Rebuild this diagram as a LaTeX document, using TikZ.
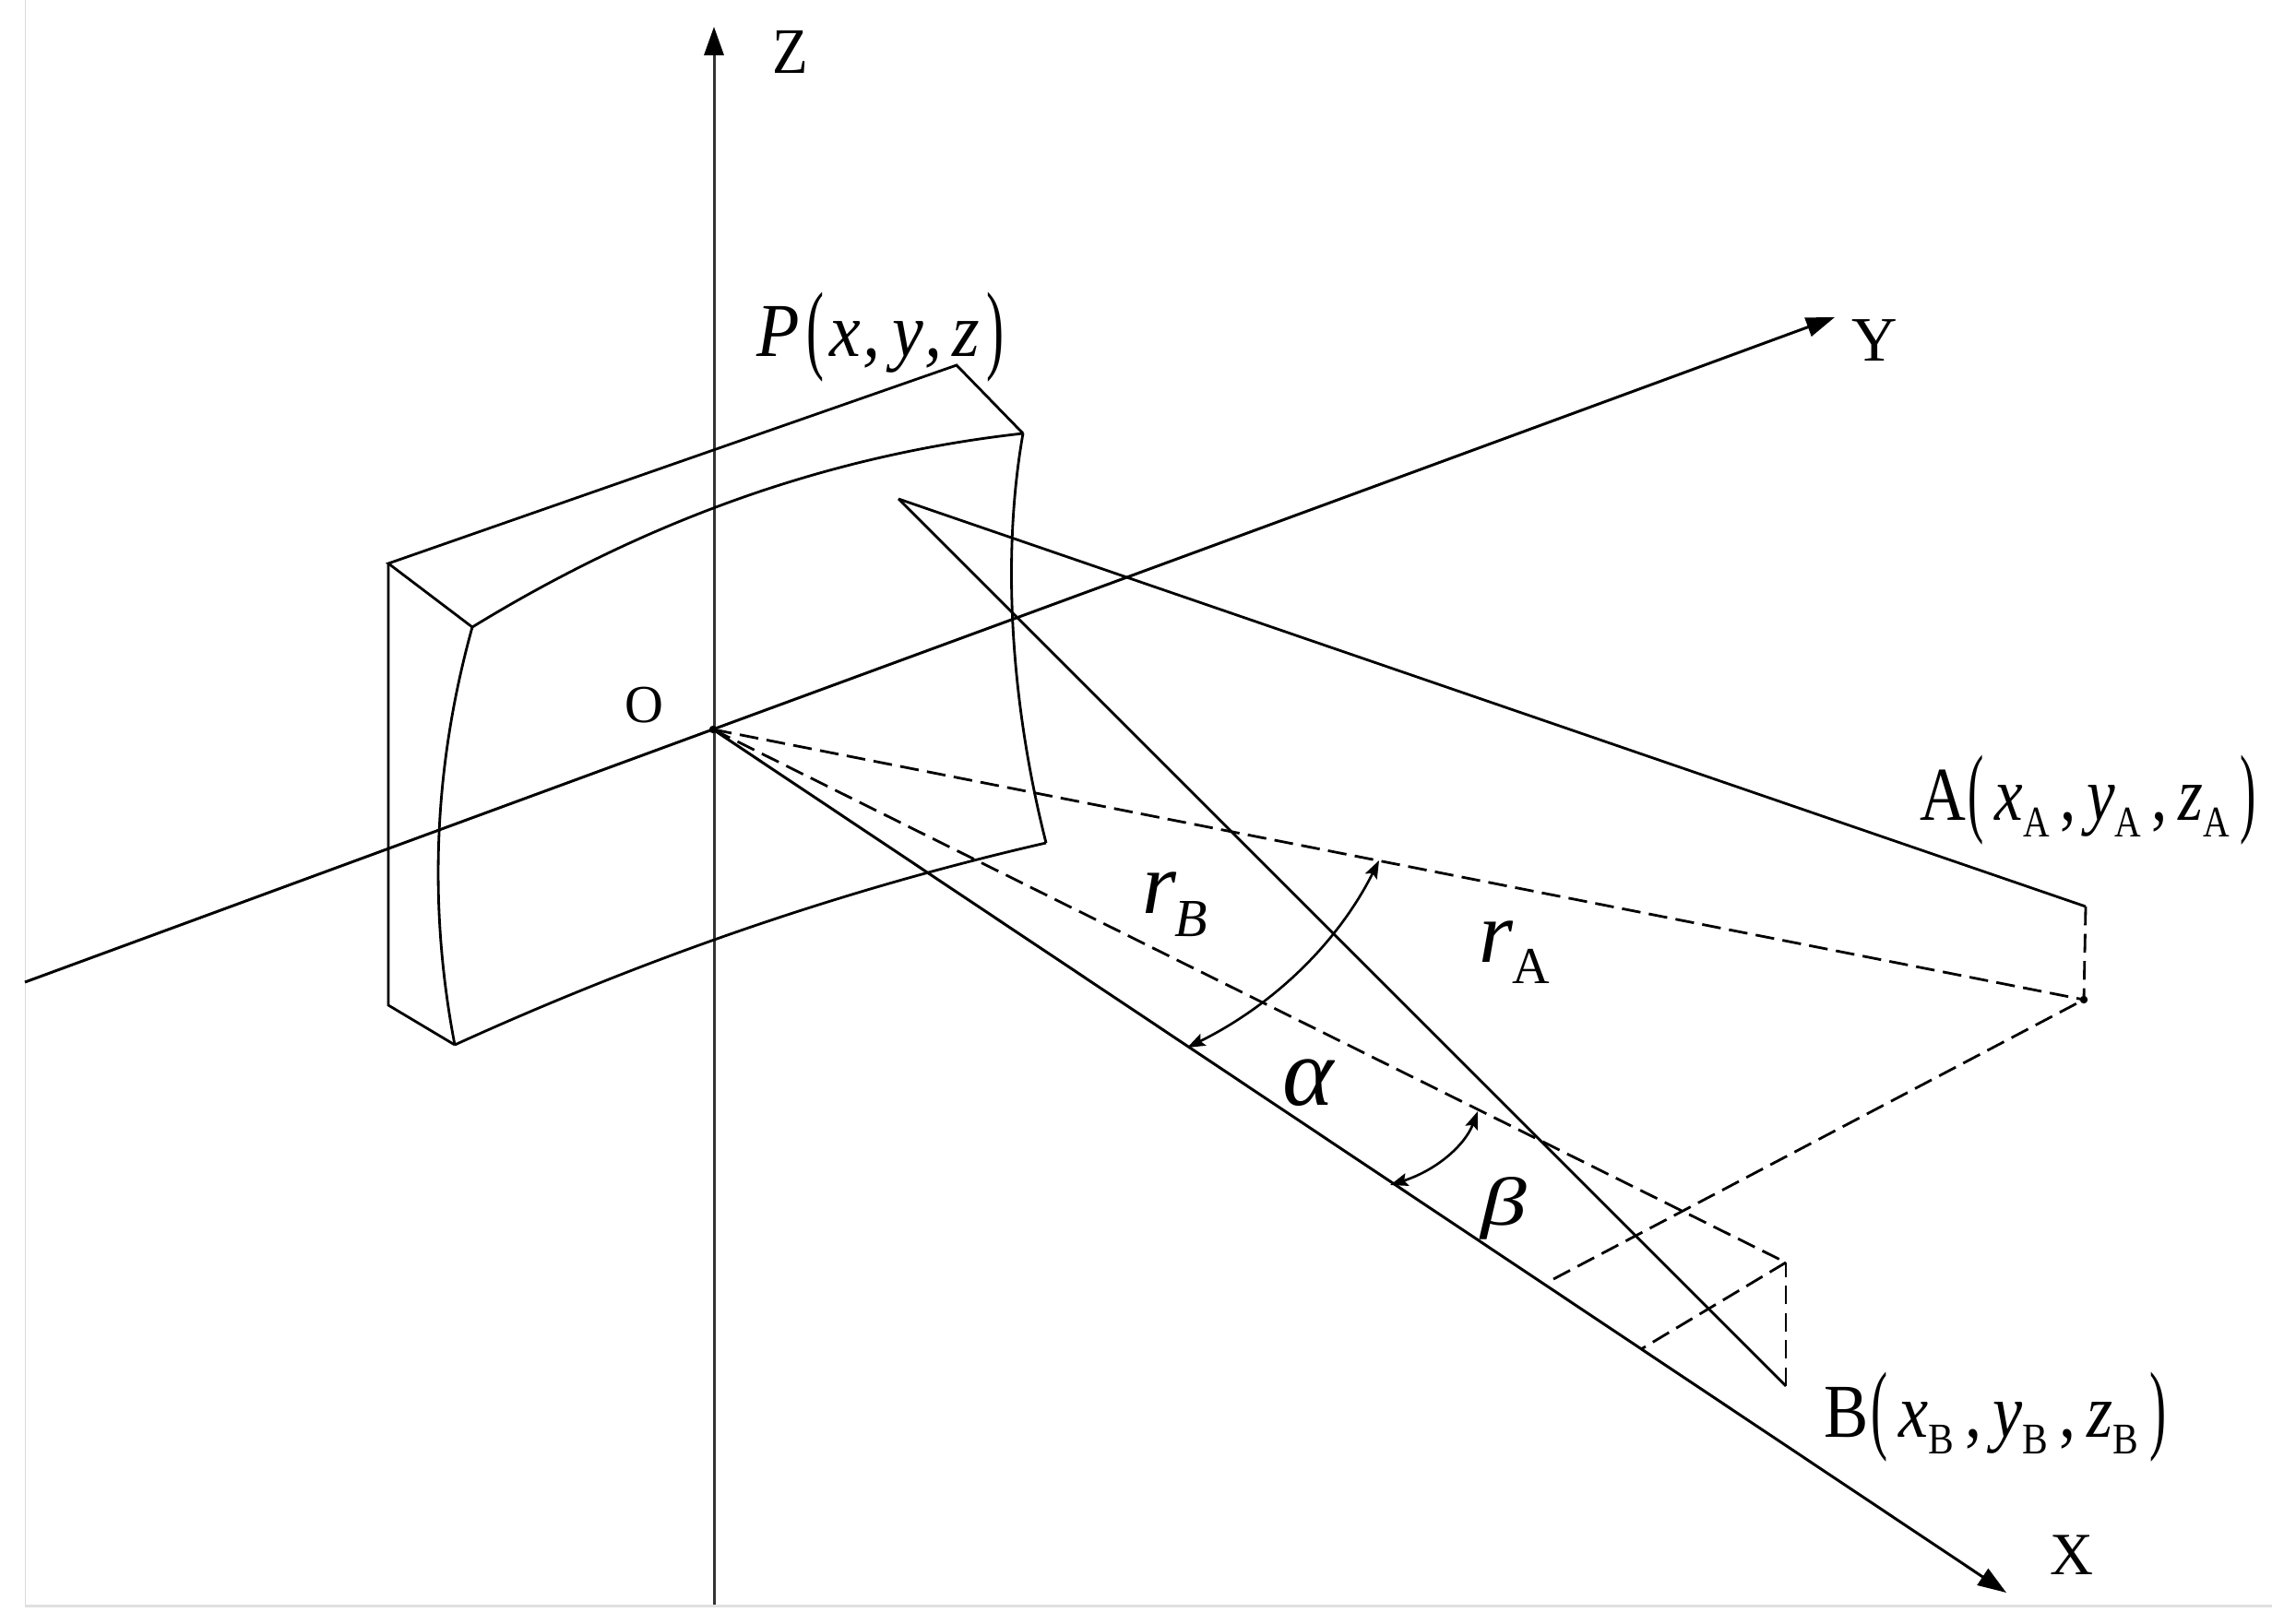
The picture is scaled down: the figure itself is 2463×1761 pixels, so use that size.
\documentclass[tikz,border=0pt]{standalone}
\usepackage{fontspec}
\setmainfont{Liberation Serif}
\usetikzlibrary{arrows.meta}
\newcommand{\lfs}[1]{\fontsize{#1}{#1}\selectfont}
\newcommand{\tallp}[1]{\raisebox{-0.06em}{\scalebox{0.75}[1.3]{\lfs{23.5}\upshape #1}}}
\newcommand{\sbs}[1]{\raisebox{-0.22em}{\lfs{13.5}#1}}
\begin{document}
\begin{tikzpicture}[x=0.01cm,y=-0.01cm,
  ln/.style={line width=0.8pt,black},
  dsh/.style={line width=0.8pt,black,dash pattern=on 5.8pt off 2.6pt},
  axisline/.style={line width=0.85pt,black,-{Triangle[length=8.8pt,width=6pt,color=black]}},
  anglearrow/.style={line width=0.75pt,black,{Stealth[length=5.5pt,width=4pt,inset=1pt]}-{Stealth[length=5.5pt,width=4pt,inset=1pt]}},
  lbl/.style={anchor=base west,inner sep=0pt,outer sep=0pt,text=black},
  dotmark/.style={circle,fill=black,inner sep=0pt,minimum size=2.4pt}]
\useasboundingbox (0,0) rectangle (2463,1761);
% frame remnants
\draw[black!14,line width=0.3pt] (27.5,0) -- (27.5,1741);
\draw[black!12,line width=0.9pt] (27,1741.5) -- (2463,1741.5);
% points
\coordinate (O) at (773,791);
\coordinate (Ztop) at (774,29);
\coordinate (Zbot) at (774,1740);
\coordinate (Yleft) at (27,1065);
\coordinate (Ytip) at (1989,344);
\coordinate (Xtip) at (2175,1727);
\coordinate (Apex) at (974,541);
\coordinate (A) at (2261,983);
\coordinate (Ap) at (2259,1084);
\coordinate (B) at (1936,1503);
\coordinate (Bp) at (1936,1369);
\coordinate (Ad) at (1684,1387);
\coordinate (Bf) at (1779,1463);
\coordinate (k1) at (421,611);
\coordinate (k2) at (1037,396);
\coordinate (k3) at (1109,470);
\coordinate (k4) at (512,680);
\coordinate (k5) at (421,1090);
\coordinate (k6) at (493,1133);
\coordinate (k7) at (1134,914);
\coordinate (a1) at (1495,933);
\coordinate (a2) at (1287,1136);
\coordinate (b1) at (1602,1205);
\coordinate (b2) at (1507,1285);
% axes
\draw[axisline,black!80] (Zbot) -- (Ztop);
\draw[axisline] (Yleft) -- (Ytip);
\draw[axisline] (O) -- (Xtip);
% block
\draw[ln] (k4) -- (k1) -- (k2) -- (k3);
\draw[ln] (k1) -- (k5) -- (k6);
\draw[ln] (k4) .. controls (711,558) and (910,492) .. (k3);
\draw[ln] (k3) .. controls (1086,600) and (1095,760) .. (k7);
\draw[ln] (k4) .. controls (470,831) and (464,982) .. (k6);
\draw[ln] (k6) .. controls (706,1036) and (920,963) .. (k7);
% rays
\draw[ln] (Apex) -- (A);
\draw[ln] (Apex) -- (B);
\draw[dsh] (A) -- (Ap);
\draw[dsh] (B) -- (Bp);
\draw[dsh] (O) -- (Ap);
\draw[dsh] (O) -- (Bp);
\draw[dsh] (Ad) -- (Ap);
\draw[dsh] (Bp) -- (Bf);
\node[dotmark] (dotA) at (Ap) {};
\node[dotmark] (dotO) at (O) {};
% angle arcs
\draw[anglearrow] (a2) .. controls (1382,1089) and (1451,1021) .. (a1);
\draw[anglearrow] (b2) .. controls (1557,1269) and (1588,1242) .. (b1);
% labels
\node[lbl] (zl) at (837,80) {\scalebox{0.9}[1]{\lfs{20}Z}};
\node[lbl] (yl) at (2007,392) {\lfs{19.5}Y};
\node[lbl] (xl) at (2222,1707) {\lfs{18.5}X};
\node[lbl] (ol) at (677,783) {\lfs{16.5}O};
\node[lbl] (pl) at (820,387) {\scalebox{0.92}[1]{\lfs{23.5}\itshape P\kern2.5pt\tallp{(}\kern2pt x\kern0.5pt,\kern4pt y\kern0.5pt,\kern3.5pt z\kern2pt\tallp{)}}};
\node[lbl] (al) at (2081,889) {\scalebox{0.835}[1]{\lfs{23.5}A\kern1pt\tallp{(}\,\textit{x}\sbs{A}\,,\,\textit{y}\sbs{A}\,,\,\textit{z}\sbs{A}\,\tallp{)}}};
\node[lbl] (bl) at (1977,1558) {\scalebox{0.875}[1]{\lfs{23.5}B\kern1pt\tallp{(}\,\textit{x}\sbs{B}\,,\,\textit{y}\sbs{B}\,,\,\textit{z}\sbs{B}\,\tallp{)}}};
\node[lbl] (rb) at (1238,990) {\lfs{27}\itshape r\kern-0.5pt\raisebox{-0.27em}{\lfs{16.5}B}};
\node[lbl] (ra) at (1603,1043) {\lfs{27}\itshape r\raisebox{-0.25em}{\lfs{16}\upshape A}};
\node[lbl] (alpha) at (1390,1198) {\lfs{30}\itshape α};
\node[lbl] (beta) at (1605,1328) {\scalebox{1.35}[1]{\lfs{21}\itshape β}};
\end{tikzpicture}
\end{document}
